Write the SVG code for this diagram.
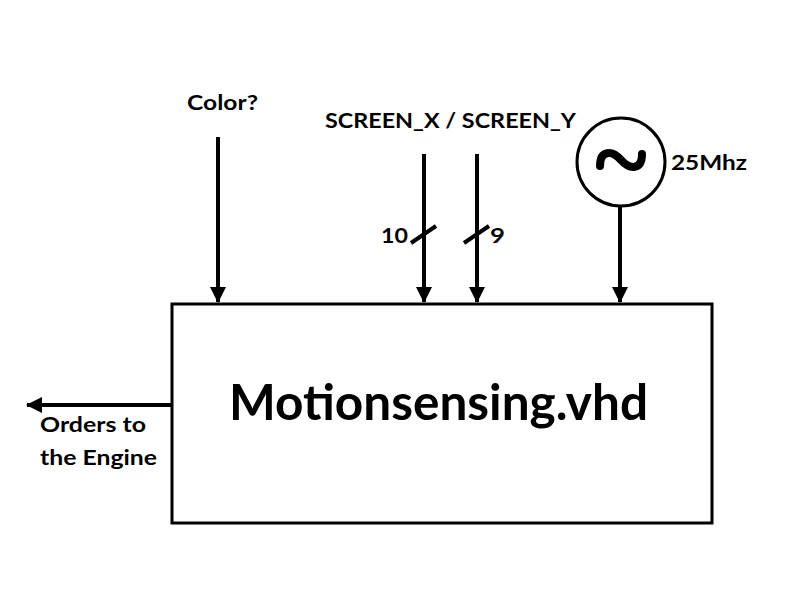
<svg xmlns="http://www.w3.org/2000/svg" width="800" height="600" viewBox="0 0 800 600">
<style>
.t{font-family:Lato,"Open Sans","Liberation Sans",sans-serif;font-weight:bold;fill:#000}
.w{stroke:#000;stroke-width:4;fill:none}
</style>
<defs>
<marker id="ah" markerUnits="userSpaceOnUse" markerWidth="16" markerHeight="18" refX="15" refY="8" orient="auto">
<path d="M0,0 L16,8 L0,16 Z" fill="#000"/>
</marker>
</defs>
<rect width="800" height="600" fill="#fff"/>
<g id="main">
<rect x="172" y="304" width="540" height="219" fill="#fff" stroke="#000" stroke-width="3"/>
<text class="t" x="229" y="420" font-size="49" textLength="419" lengthAdjust="spacingAndGlyphs">Motionsensing.vhd</text>
</g>
<g id="clock">
<circle cx="621" cy="162" r="44" fill="#fff" stroke="#000" stroke-width="3"/>
<path d="M600,166 C600,150 612,150 621,160 C630,170 642,170 642,154" stroke="#000" stroke-width="8" fill="none" stroke-linecap="round"/>
<text class="t" x="671" y="170" font-size="21" textLength="76" lengthAdjust="spacingAndGlyphs">25Mhz</text>
</g>
<g id="labels">
<text class="t" x="187" y="110" font-size="21" textLength="71" lengthAdjust="spacingAndGlyphs">Color?</text>
<text class="t" x="325" y="128" font-size="21" textLength="251" lengthAdjust="spacingAndGlyphs">SCREEN_X / SCREEN_Y</text>
<text class="t" x="381" y="243" font-size="21" textLength="27" lengthAdjust="spacingAndGlyphs">10</text>
<text class="t" x="490" y="243" font-size="21" textLength="15" lengthAdjust="spacingAndGlyphs">9</text>
<text class="t" x="40" y="432" font-size="21" textLength="106" lengthAdjust="spacingAndGlyphs">Orders to</text>
<text class="t" x="40" y="465" font-size="21" textLength="117" lengthAdjust="spacingAndGlyphs">the Engine</text>
</g>
<g id="connectors">
<line class="w" x1="218" y1="137" x2="218" y2="302" marker-end="url(#ah)"/>
<line class="w" x1="424" y1="154" x2="424" y2="302" marker-end="url(#ah)"/>
<line class="w" x1="477" y1="154" x2="477" y2="302" marker-end="url(#ah)"/>
<line class="w" x1="620" y1="206" x2="620" y2="302" marker-end="url(#ah)"/>
<line class="w" x1="172" y1="405" x2="27" y2="405" marker-end="url(#ah)"/>
<line class="w" x1="411" y1="243" x2="436" y2="226"/>
<line class="w" x1="464" y1="243" x2="489" y2="226"/>
</g>
</svg>
